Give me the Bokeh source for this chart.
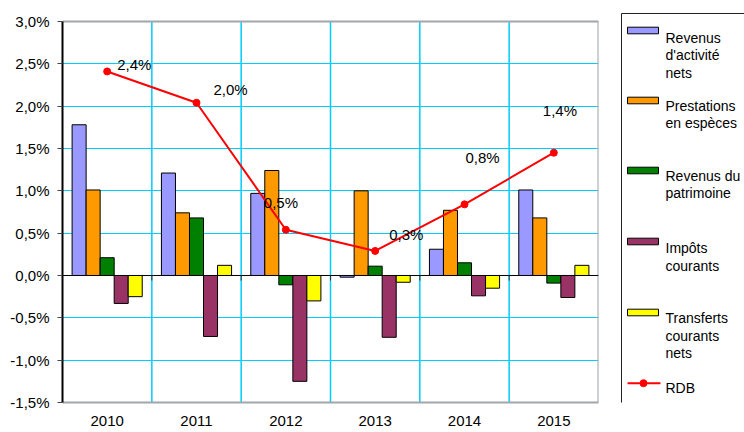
from bokeh.plotting import figure
from bokeh.models import ColumnDataSource, Range1d, FixedTicker, Span
from bokeh.transform import dodge
from bokeh.layouts import row
from bokeh.core.properties import value
from bokeh.embed import file_html
from bokeh.resources import INLINE

years = ["2010", "2011", "2012", "2013", "2014", "2015"]
revenus_activite = [1.78, 1.21, 0.97, -0.02, 0.31, 1.01]
prestations = [1.01, 0.74, 1.24, 1.00, 0.77, 0.68]
revenus_patrimoine = [0.21, 0.68, -0.11, 0.11, 0.15, -0.09]
impots = [-0.33, -0.72, -1.25, -0.73, -0.24, -0.26]
transferts = [-0.25, 0.12, -0.30, -0.08, -0.15, 0.12]
rdb = [2.41, 2.04, 0.54, 0.29, 0.84, 1.45]
rdb_labels = ["2,4%", "2,0%", "0,5%", "0,3%", "0,8%", "1,4%"]
y_ticks = [-1.5, -1.0, -0.5, 0.0, 0.5, 1.0, 1.5, 2.0, 2.5, 3.0]

series_names = ["Revenus\nd'activité\nnets", "Prestations\nen espèces", "Revenus du\npatrimoine",
                "Impôts\ncourants", "Transferts\ncourants\nnets"]
series_cols = ["act", "pre", "pat", "imp", "tra"]
colors = ["#9999FF", "#FF9900", "#008000", "#993366", "#FFFF00"]
red = "#FF0000"
grid_cyan = "#00CCFF"
gray = "#A0A6AA"
FONT = "Liberation Sans"

# label offsets in screen pixels (style)
lab_dx = [10, 17, -22, 14, 1, -11]
lab_dy = [-7, -13, -27, -16, -47, -42]

ncat = len(years)
centers = [i + 0.5 for i in range(ncat)]
src = ColumnDataSource(dict(x=centers, act=revenus_activite, pre=prestations, pat=revenus_patrimoine,
                            imp=impots, tra=transferts, rdb=rdb, lab=rdb_labels, dx=lab_dx, dy=lab_dy))

ymin, ymax = y_ticks[0], y_ticks[-1]
top_pad = 0.106  # extra frame space above the plot area (for legend frame alignment)

p = figure(width=620, height=432, output_backend="svg", toolbar_location=None,
           x_range=Range1d(0, ncat), y_range=Range1d(ymin, ymax + top_pad),
           min_border_left=62, min_border_right=22, min_border_top=12, min_border_bottom=30)
p.background_fill_color = "white"
p.border_fill_color = "white"
p.outline_line_color = None

# grids
p.ygrid.ticker = FixedTicker(ticks=y_ticks)
p.ygrid.grid_line_color = grid_cyan
p.ygrid.grid_line_width = 1
p.xgrid.visible = False
bounds = list(range(1, ncat))
vg = p.segment(x0=bounds, y0=[ymin] * len(bounds), x1=bounds, y1=[ymax] * len(bounds),
               line_color=grid_cyan, line_width=1.5)
vg.level = "underlay"

# axes
p.yaxis.ticker = FixedTicker(ticks=y_ticks)
p.yaxis.bounds = (ymin, ymax)
p.yaxis.major_label_overrides = {t: (f"{t:.1f}".replace(".", ",") + "%") for t in y_ticks}
p.yaxis.axis_line_color = "black"
p.yaxis.axis_line_width = 2
p.yaxis.major_tick_out = 5
p.yaxis.major_tick_in = 0
p.yaxis.major_tick_line_color = "#444444"
p.yaxis.minor_tick_line_color = None
p.yaxis.major_label_standoff = 8
p.yaxis.major_label_text_font = FONT
p.yaxis.major_label_text_font_size = "15px"
p.yaxis.major_label_text_color = "black"

p.xaxis.ticker = FixedTicker(ticks=centers)
p.xaxis.major_label_overrides = {c: y for c, y in zip(centers, years)}
p.xaxis.axis_line_color = gray
p.xaxis.axis_line_width = 2
p.xaxis.major_tick_line_color = None
p.xaxis.minor_tick_line_color = None
p.xaxis.major_label_standoff = 7
p.xaxis.major_label_text_font = FONT
p.xaxis.major_label_text_font_size = "15px"
p.xaxis.major_label_text_color = "black"

# top and right borders of the plot area
p.segment(x0=[0, ncat], y0=[ymax, ymin], x1=[ncat, ncat], y1=[ymax, ymax],
          line_color=gray, line_width=2)

# bars
bw = 0.157
offsets = [-2 * bw, -bw, 0, bw, 2 * bw]
for col, c, off in zip(series_cols, colors, offsets):
    p.vbar(x=dodge("x", off, range=p.x_range), top=col, bottom=0, width=bw, source=src,
           fill_color=c, line_color="black", line_width=1)

# zero line and category ticks
p.segment(x0=[0], y0=[0], x1=[ncat], y1=[0], line_color="black", line_width=1)
p.segment(x0=bounds, y0=[0] * len(bounds), x1=bounds, y1=[-0.06] * len(bounds),
          line_color="#333333", line_width=1)

# RDB line
p.line(x="x", y="rdb", source=src, line_color=red, line_width=2)
p.scatter(x="x", y="rdb", source=src, size=7, fill_color=red, line_color=red)
p.text(x="x", y="rdb", text="lab", source=src, x_offset="dx", y_offset="dy",
       text_font=value(FONT), text_font_size="15px", text_color="black",
       text_align="left", text_baseline="middle")

# legend figure (coordinates in page pixels; its frame aligns with the main frame: 12..402)
lx0 = 620
L = figure(width=124, height=432, output_backend="svg", toolbar_location=None,
           x_range=Range1d(lx0, lx0 + 124), y_range=Range1d(402, 12),
           x_axis_location=None, y_axis_location=None,
           min_border_left=0, min_border_right=0, min_border_top=12, min_border_bottom=30)
L.title = None
L.grid.visible = False
L.outline_line_color = None
L.background_fill_color = "white"
L.border_fill_color = "white"

L.segment(x0=[621, 621], y0=[13, 13], x1=[621, 750], y1=[410, 13], line_color="#222222", line_width=1)

sw_centers = [30, 100, 170, 241, 312]
first_baselines = [37.3, 105, 175, 247.5, 317.5]
tx, ty, tt = [], [], []
for name, yc, bl in zip(series_names, sw_centers, first_baselines):
    for k, line in enumerate(name.split("\n")):
        tx.append(665)
        ty.append(bl + k * 17.5)
        tt.append(line)
L.quad(left=[627] * 5, right=[658] * 5, top=[y - 3.3 for y in sw_centers],
       bottom=[y + 3.3 for y in sw_centers], fill_color=colors, line_color="black", line_width=1)
L.line(x=[627, 660], y=[382.7, 382.7], line_color=red, line_width=2)
L.scatter(x=[643], y=[382.7], size=7, fill_color=red, line_color=red)
tx.append(665); ty.append(387.5); tt.append("RDB")
L.text(x=tx, y=ty, text=tt, text_font=value(FONT), text_font_size="14px", text_color="black",
       text_align="left", text_baseline="alphabetic")

layout = row(p, L)
open("out.html", "w").write(file_html(layout, INLINE))
